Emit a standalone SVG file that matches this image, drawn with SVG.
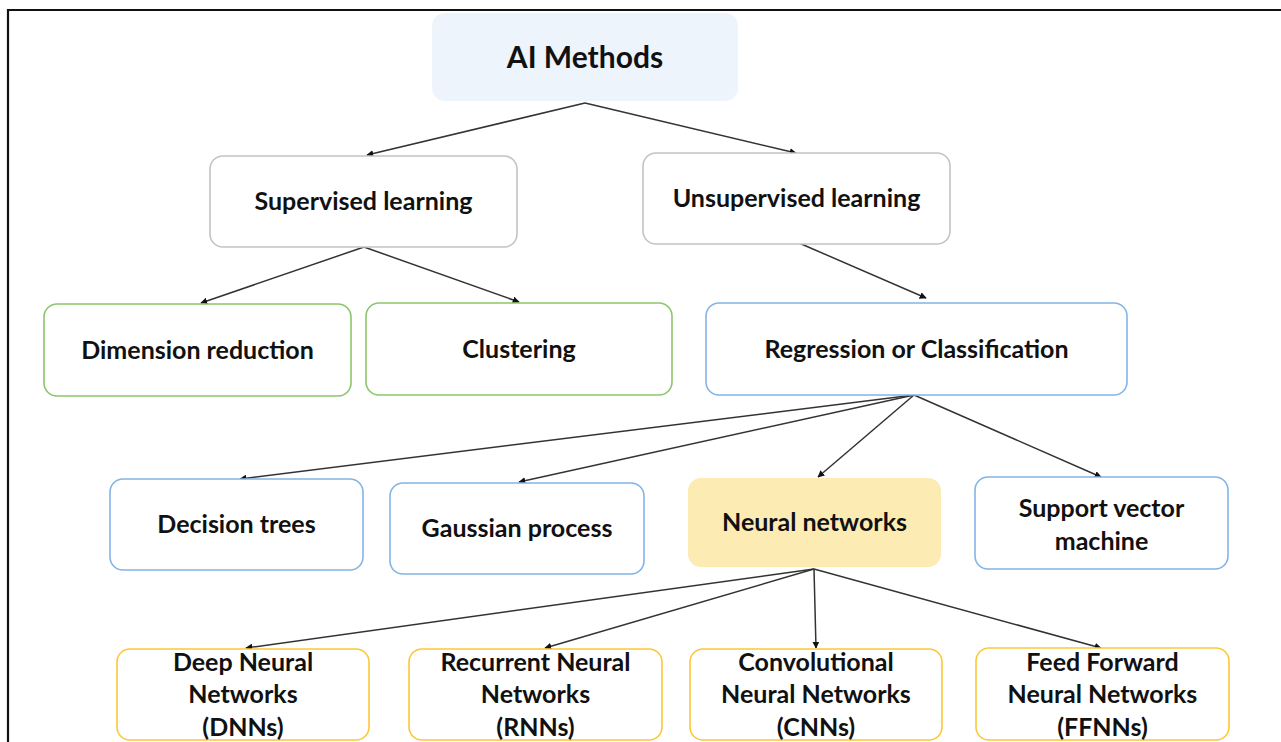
<svg xmlns="http://www.w3.org/2000/svg" width="1281" height="742" viewBox="0 0 1281 742">
<style>
  .box{fill:#ffffff;stroke-width:1.6}
  .gray{stroke:#c4c4c4}
  .green{stroke:#8cc66c}
  .blue{stroke:#82b4e6}
  .yel{stroke:#fcc83a}
  .lbl{font-family:Lato,"Open Sans","Liberation Sans",sans-serif;font-weight:bold;font-size:25px;fill:#111;text-anchor:middle}
  .conn line{stroke:#333;stroke-width:1.5;marker-end:url(#ah)}
</style>
<defs>
  <marker id="ah" viewBox="0 0 10 10" refX="9" refY="5" markerWidth="7" markerHeight="7" markerUnits="userSpaceOnUse" orient="auto">
    <path d="M0,0 L10,5 L0,10 z" fill="#111"/>
  </marker>
</defs>
<rect x="0" y="0" width="1281" height="742" fill="#ffffff"/>
<path d="M8,742 V10 H1281" fill="none" stroke="#111" stroke-width="2.2"/>

<g class="conn">
  <line x1="585" y1="103" x2="367" y2="155"/>
  <line x1="585" y1="103" x2="796" y2="153"/>
  <line x1="364" y1="247" x2="201" y2="303"/>
  <line x1="364" y1="247" x2="519" y2="302"/>
  <line x1="799" y1="243" x2="926" y2="298"/>
  <line x1="914" y1="395" x2="240" y2="479"/>
  <line x1="914" y1="395" x2="519" y2="482"/>
  <line x1="914" y1="395" x2="818" y2="477"/>
  <line x1="914" y1="395" x2="1101" y2="477"/>
  <line x1="814" y1="569" x2="246" y2="648"/>
  <line x1="814" y1="569" x2="545" y2="648"/>
  <line x1="814" y1="569" x2="816" y2="648"/>
  <line x1="814" y1="569" x2="1101" y2="648"/>
</g>

<g id="ai-methods">
  <rect x="432" y="13" width="306" height="88" rx="13" fill="#eef4fb"/>
  <text class="lbl" x="585" y="68" style="font-size:30px">AI Methods</text>
</g>
<g id="supervised">
  <rect class="box gray" x="210" y="156" width="307" height="91" rx="13"/>
  <text class="lbl" x="363.5" y="210">Supervised learning</text>
</g>
<g id="unsupervised">
  <rect class="box gray" x="643" y="153" width="307" height="91" rx="13"/>
  <text class="lbl" x="796.5" y="207">Unsupervised learning</text>
</g>
<g id="dimension">
  <rect class="box green" x="44" y="304" width="307" height="92" rx="13"/>
  <text class="lbl" x="197.5" y="359">Dimension reduction</text>
</g>
<g id="clustering">
  <rect class="box green" x="366" y="303" width="306" height="92" rx="13"/>
  <text class="lbl" x="519" y="358">Clustering</text>
</g>
<g id="regression">
  <rect class="box blue" x="706" y="303" width="421" height="92" rx="13"/>
  <text class="lbl" x="916.5" y="358">Regression or Classification</text>
</g>
<g id="decision">
  <rect class="box blue" x="110" y="479" width="253" height="91" rx="13"/>
  <text class="lbl" x="236.5" y="533">Decision trees</text>
</g>
<g id="gaussian">
  <rect class="box blue" x="390" y="483" width="254" height="91" rx="13"/>
  <text class="lbl" x="517" y="537">Gaussian process</text>
</g>
<g id="neural">
  <rect x="688" y="478" width="253" height="89" rx="13" fill="#fdebb4"/>
  <text class="lbl" x="814.5" y="531">Neural networks</text>
</g>
<g id="svm">
  <rect class="box blue" x="975" y="477" width="253" height="92" rx="13"/>
  <text class="lbl" x="1101.5" y="517">Support vector</text>
  <text class="lbl" x="1101.5" y="550">machine</text>
</g>
<g id="dnn">
  <rect class="box yel" x="117" y="649" width="252" height="91" rx="13"/>
  <text class="lbl" x="243" y="671">Deep Neural</text>
  <text class="lbl" x="243" y="703">Networks</text>
  <text class="lbl" x="243" y="736">(DNNs)</text>
</g>
<g id="rnn">
  <rect class="box yel" x="409" y="649" width="253" height="91" rx="13"/>
  <text class="lbl" x="535.5" y="671">Recurrent Neural</text>
  <text class="lbl" x="535.5" y="703">Networks</text>
  <text class="lbl" x="535.5" y="736">(RNNs)</text>
</g>
<g id="cnn">
  <rect class="box yel" x="690" y="649" width="252" height="91" rx="13"/>
  <text class="lbl" x="816" y="671">Convolutional</text>
  <text class="lbl" x="816" y="703">Neural Networks</text>
  <text class="lbl" x="816" y="736">(CNNs)</text>
</g>
<g id="ffnn">
  <rect class="box yel" x="976" y="648" width="253" height="92" rx="13"/>
  <text class="lbl" x="1102.5" y="671">Feed Forward</text>
  <text class="lbl" x="1102.5" y="703">Neural Networks</text>
  <text class="lbl" x="1102.5" y="736">(FFNNs)</text>
</g>
</svg>
